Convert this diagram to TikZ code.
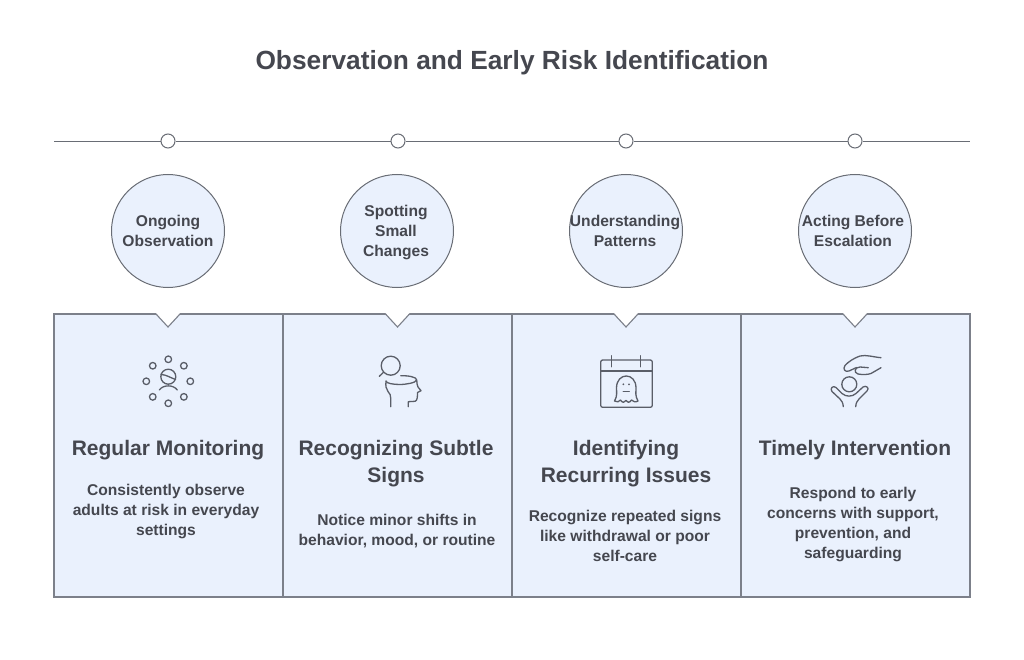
\documentclass[tikz,border=0pt]{standalone}
\usepackage{fontspec}
\setmainfont{Liberation Sans}
\definecolor{ink}{HTML}{45474F}
\definecolor{edge}{HTML}{7C808A}
\definecolor{fillb}{HTML}{EAF1FD}
\definecolor{iconc}{HTML}{5A5E68}
\tikzset{
  panel/.style={draw=edge,line width=1.1pt,fill=fillb},
  railline/.style={draw=edge!85!black,line width=0.9pt},
  dot/.style={circle,draw=edge!85!black,line width=1pt,fill=white,minimum size=14pt,inner sep=0pt},
  topic/.style={circle,draw=edge!85!black,line width=1pt,fill=fillb,minimum size=113pt,inner sep=0pt},
  topictext/.style={text=ink,align=center,font=\fontsize{15.6}{20}\selectfont\bfseries},
  headtext/.style={text=ink,align=center,font=\fontsize{21}{27}\selectfont\bfseries},
  bodytext/.style={text=ink,align=center,font=\fontsize{15.6}{20}\selectfont\bfseries},
  titletext/.style={text=ink,font=\fontsize{26.3}{32}\selectfont\bfseries},
  icon/.style={draw=iconc,line width=1.3pt,line cap=round,line join=round},
}
\begin{document}
\begin{tikzpicture}[x=1pt,y=-1pt]
\useasboundingbox (0,0) rectangle (1024,660);
\node[titletext] (title) at (512,62.5) {Observation and Early Risk Identification};
% timeline
\coordinate (railL) at (54,141);
\coordinate (railR) at (970,141);
\node[dot] (d1) at (168,141) {};
\node[dot] (d2) at (398,141) {};
\node[dot] (d3) at (626,141) {};
\node[dot] (d4) at (855,141) {};
\draw[railline] (railL) -- (d1) (d1) -- (d2) (d2) -- (d3) (d3) -- (d4) (d4) -- (railR);
% circles
\node[topic] (c1) at (168,231) {};
\node[topic] (c2) at (397,231) {};
\node[topic] (c3) at (626,231) {};
\node[topic] (c4) at (855,231) {};
\node[topictext] (t1) at (168,231) {Ongoing\\Observation};
\node[topictext] (t2) at (396,233) {Spotting\\Small\\Changes};
\node[topictext] (t3) at (625,231) {Understanding\\Patterns};
\node[topictext] (t4) at (853,231) {Acting Before\\Escalation};
% panels
\draw[panel] (54,314) rectangle (283,597);
\draw[panel] (283,314) rectangle (512,597);
\draw[panel] (512,314) rectangle (741,597);
\draw[panel] (741,314) rectangle (970,597);
\foreach \x in {168,397.5,626,855}{
  \fill[white] (\x-12,313) -- (\x+12,313) -- (\x,327) -- cycle;
  \draw[draw=edge,line width=1.1pt] (\x-12,314) -- (\x,327) -- (\x+12,314);
}
% icon 1
\foreach \a in {0,45,...,315}{ \draw[icon] (168.3,381.3)+({22*cos(\a)},{22*sin(\a)}) circle[radius=3.3]; }
\draw[icon] (168.3,376.7) circle[radius=7.5];
\draw[icon] (161,374.5) .. controls (166,374.5) and (171,378) .. (175.5,379.5);
\draw[icon] (159.3,390) .. controls (163,384.5) and (173.5,384.5) .. (177.3,390);
% icon 2
\draw[icon] (390.7,365.7) circle[radius=9.5];
\draw[icon] (383.5,372.3) -- (379.3,376.3);
\draw[icon] (400.7,375.7) .. controls (408,375.5) and (417,377) .. (416.7,380) .. controls (416,383) and (405,384.5) .. (400,384.5) .. controls (394,384.5) and (386,383.5) .. (386,381);
\draw[icon] (386,381) .. controls (385.5,386) and (386,389) .. (388,391.5) .. controls (390,394) and (390.7,395) .. (390.7,398) -- (390.7,406.7);
\draw[icon] (416.7,380) .. controls (417,383) and (417,385.5) .. (418,387) -- (421,390.7) -- (417.5,392.5) .. controls (417.5,396) and (417.5,401) .. (415,401.3) -- (408.3,401.7) -- (408.3,406.7);
% icon 3
\draw[icon,rounded corners=2pt] (600.7,360) rectangle (652.3,407.3);
\draw[icon] (600.7,371) -- (652.3,371);
\draw[icon] (611.7,355.7) -- (611.7,366.7);
\draw[icon] (640.7,355.7) -- (640.7,366.7);
\draw[icon] (614.5,401) .. controls (617.5,396) and (616.5,392) .. (616.5,388) .. controls (616.5,372) and (636,372) .. (636,388) .. controls (636,392) and (635,396) .. (638,401)
  .. controls (635,403) and (633,401) .. (631.5,400) .. controls (629.5,403) and (627,403) .. (626,400.5) .. controls (625,403) and (622,403) .. (620.5,400) .. controls (619,401.5) and (617,403) .. (614.5,401) -- cycle;
\fill[iconc] (623.3,384.3) circle[radius=1] (629,384.3) circle[radius=1];
\draw[icon] (623.3,391.7) -- (629.3,391.7);
% icon 4
\draw[icon] (881,357.7) .. controls (873,357) and (866,354.5) .. (860,356) .. controls (854,358) and (848,362) .. (845,365.5) .. controls (842.5,369) and (845,372.5) .. (849,371) -- (856.5,367.5);
\draw[icon] (868.3,367.7) -- (860,367) .. controls (855,367) and (853,372.5) .. (858,374) .. controls (863,375) and (868,374.5) .. (871,373.5) -- (881,367.7);
\draw[icon] (849.3,384.3) circle[radius=7.5];
\draw[icon] (843.3,406.7) .. controls (843,403) and (842,401) .. (840,399) -- (832,391.5) .. controls (829.5,388.5) and (833,385) .. (836,387.5) -- (842,393.5) .. controls (846,397) and (852,397) .. (856,393.5) -- (863,387) .. controls (866,385) and (870,388) .. (867,391) -- (859,399) .. controls (857,401) and (856,403) .. (855.7,406.7);
% headings
\node[headtext] (h1) at (168,450) {Regular Monitoring};
\node[headtext] (h2) at (396,463.5) {Recognizing Subtle\\Signs};
\node[headtext] (h3) at (626,463.5) {Identifying\\Recurring Issues};
\node[headtext] (h4) at (855,450) {Timely Intervention};
% bodies
\node[bodytext] (b1) at (166,511) {Consistently observe\\adults at risk in everyday\\settings};
\node[bodytext] (b2) at (397,531) {Notice minor shifts in\\behavior, mood, or routine};
\node[bodytext] (b3) at (625,536) {Recognize repeated signs\\like withdrawal or poor\\self-care};
\node[bodytext] (b4) at (853,524) {Respond to early\\concerns with support,\\prevention, and\\safeguarding};
\end{tikzpicture}
\end{document}
